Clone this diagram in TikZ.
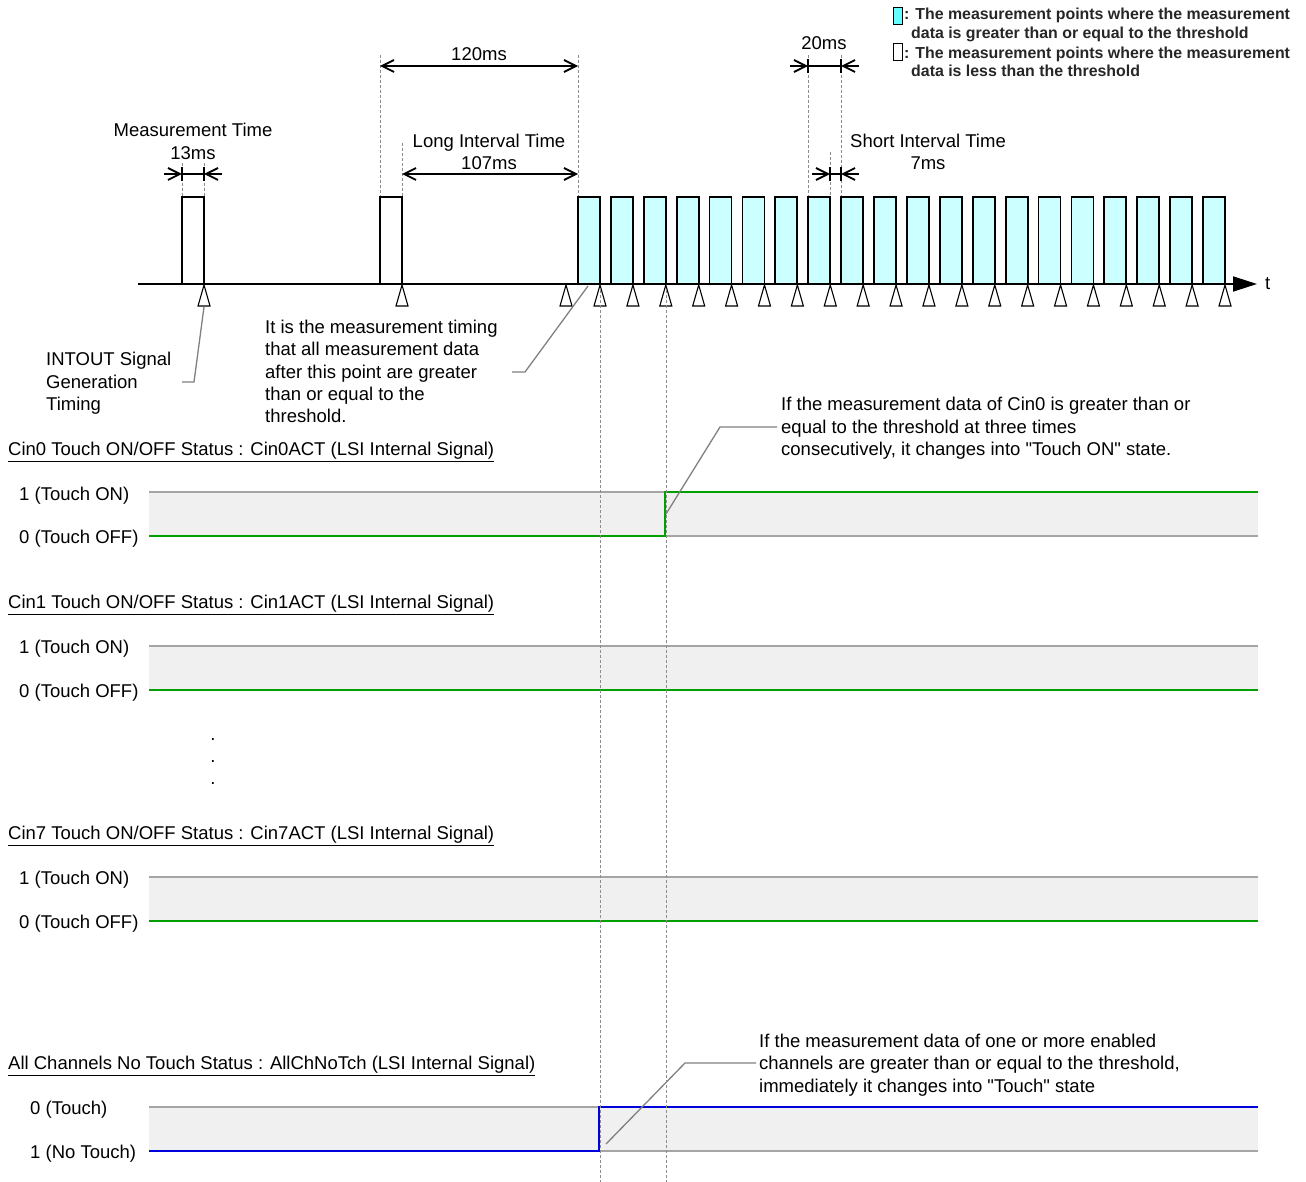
\documentclass[tikz,border=0pt]{standalone}
\usepackage{fontspec}
\setmainfont{Liberation Sans}[Ligatures=TeXOff]
\usetikzlibrary{arrows.meta}
\definecolor{cyanfill}{RGB}{204,255,255}
\definecolor{cyanleg}{RGB}{102,255,255}
\definecolor{siggreen}{RGB}{0,160,0}
\definecolor{sigblue}{RGB}{0,0,220}
\definecolor{bandline}{RGB}{165,165,165}
\definecolor{bandfill}{RGB}{240,240,240}
\definecolor{leadgray}{RGB}{128,128,128}
\begin{document}
\begin{tikzpicture}[x=1pt,y=-1pt,
  lbl/.style={font=\fontsize{18.5}{22.3}\selectfont, inner sep=0pt, align=left},
  clbl/.style={font=\fontsize{18.5}{22.3}\selectfont, inner sep=0pt, align=center},
  leg/.style={font=\bfseries\fontsize{15.9}{18.3}\selectfont, inner sep=0pt, align=left, text=black!85},
  pulsew/.style={draw=black, line width=1.8pt, fill=white},
  pulsec/.style={draw=black, line width=1.8pt, fill=cyanfill},
  tri/.style={draw=black, line width=1.1pt, fill=white, line join=miter},
  dashln/.style={draw=black!45, line width=1pt, dash pattern=on 3pt off 2pt},
  dimln/.style={draw=black, line width=1.8pt},
  barb/.style={draw=black, line width=1.8pt, -{Straight Barb[length=12pt,width=12pt]}},
  dbarb/.style={draw=black, line width=1.8pt, {Straight Barb[length=12pt,width=12pt]}-{Straight Barb[length=12pt,width=12pt]}},
  leader/.style={draw=leadgray, line width=1.3pt},
  bline/.style={draw=bandline, line width=1.8pt},
  grn/.style={draw=siggreen, line width=2.2pt},
  blu/.style={draw=sigblue, line width=2.2pt}
]
\useasboundingbox (0,0) rectangle (1306,1182);

% ---------------- legend ----------------
\draw[line width=1pt, fill=cyanleg] (893,8) rectangle (902,25);
\draw[line width=1pt, fill=white] (893,44) rectangle (902,61);
\node[leg, anchor=west] (leg1) at (904,25) {: The measurement points where the measurement\\\hspace*{7pt}data is greater than or equal to the threshold};
\node[leg, anchor=west] (leg2) at (904,62) {: The measurement points where the measurement\\\hspace*{7pt}data is less than the threshold};

% ---------------- dashed guide lines (top) ----------------
\draw[dashln] (182,163) -- (182,197);
\draw[dashln] (204,163) -- (204,197);
\draw[dashln] (380,55) -- (380,197);
\draw[dashln] (578,55) -- (578,197);
\draw[dashln] (402,143) -- (402,197);
\draw[dashln] (808,55) -- (808,197);
\draw[dashln] (841,55) -- (841,197);
\draw[dashln] (830,152) -- (830,197);

% ---------------- time axis ----------------
\coordinate (axL) at (138,284);
\coordinate (axR) at (1257,284);
\draw[line width=1.8pt, -{Triangle[length=24pt,width=15pt]}] (axL) -- (axR);
\node[lbl, anchor=west] (tlab) at (1265,284) {t};

% ---------------- pulses ----------------
\draw[pulsew] (182,284) rectangle (204,197);
\draw[pulsew] (380,284) rectangle (402,197);
\foreach \i in {0,...,19}{
  \pgfmathsetmacro\xx{578+\i*32.895}
  \draw[pulsec] (\xx,284) rectangle (\xx+22,197);
}

% ---------------- triangles ----------------
\foreach \xx in {204,402,566}{
  \draw[tri] (\xx,285) -- (\xx-6,306) -- (\xx+6,306) -- cycle;
}
\foreach \i in {0,...,19}{
  \pgfmathsetmacro\xx{600+\i*32.895}
  \draw[tri] (\xx,285) -- (\xx-6,306) -- (\xx+6,306) -- cycle;
}

% ---------------- dimensions ----------------
% 13ms
\draw[dimln] (182,174) -- (204,174);
\draw[barb] (164,174) -- (182,174);
\draw[barb] (222,174) -- (204,174);
\draw[dimln] (182,167) -- (182,181);
\draw[dimln] (204,167) -- (204,181);
\node[clbl] (mtime) at (193,141.5) {Measurement Time\\13ms};
% 120ms
\draw[dbarb] (380,66) -- (578,66);
\node[clbl] (d120) at (479,54) {120ms};
% 107ms
\draw[dbarb] (402,174) -- (578,174);
\node[clbl] (lit) at (489,152) {Long Interval Time\\107ms};
% 20ms
\draw[dimln] (808,66) -- (841,66);
\draw[barb] (790,66) -- (808,66);
\draw[barb] (859,66) -- (841,66);
\draw[dimln] (808,59) -- (808,73);
\draw[dimln] (841,59) -- (841,73);
\node[clbl] (d20) at (824,43) {20ms};
% 7ms
\draw[dimln] (830,174) -- (841,174);
\draw[barb] (812,174) -- (830,174);
\draw[barb] (859,174) -- (841,174);
\draw[dimln] (830,167) -- (830,181);
\draw[dimln] (841,167) -- (841,181);
\node[clbl] (sit) at (928,152) {Short Interval Time\\7ms};

% ---------------- annotations (top) ----------------
\node[lbl, anchor=west] (intout) at (46,383.5) {INTOUT Signal\\Generation\\Timing};
\coordinate (intoutTri) at (204,307);
\coordinate (intoutEnd) at (182,382);
\draw[leader] (intoutTri) -- (194,382) -- (intoutEnd);

\node[lbl, anchor=west] (mtiming) at (265,371.5) {It is the measurement timing\\that all measurement data\\after this point are greater\\than or equal to the\\threshold.};
\coordinate (mtPulse) at (588,286);
\coordinate (mtEnd) at (512,372);
\draw[leader] (mtPulse) -- (525,372) -- (mtEnd);

% ---------------- Cin0 ----------------
\node[lbl, anchor=base west] (t0) at (8,455.5) {\underline{Cin0 Touch ON/OFF Status : Cin0ACT (LSI Internal Signal)}};
\fill[bandfill] (149,492) rectangle (1258,536);
\draw[bline] (149,492) -- (1258,492);
\draw[bline] (149,536) -- (1258,536);
\draw[grn] (149,536) -- (665,536) -- (665,492) -- (1258,492);
\node[lbl, anchor=base west] (c0on) at (19,500.5) {1 (Touch ON)};
\node[lbl, anchor=base west] (c0off) at (19,543.5) {0 (Touch OFF)};
\node[lbl, anchor=west] (ann0) at (781,428.5) {If the measurement data of Cin0 is greater than or\\equal to the threshold at three times\\consecutively, it changes into "Touch ON" state.};
\coordinate (ann0Step) at (666,514);
\coordinate (ann0End) at (777,427);
\draw[leader] (ann0Step) -- (720,427) -- (ann0End);

% ---------------- Cin1 ----------------
\node[lbl, anchor=base west] (t1) at (8,608.5) {\underline{Cin1 Touch ON/OFF Status : Cin1ACT (LSI Internal Signal)}};
\fill[bandfill] (149,646) rectangle (1258,690);
\draw[bline] (149,646) -- (1258,646);
\draw[grn] (149,690) -- (1258,690);
\node[lbl, anchor=base west] (c1on) at (19,653.5) {1 (Touch ON)};
\node[lbl, anchor=base west] (c1off) at (19,697.5) {0 (Touch OFF)};

% dots
\node[lbl, anchor=base] (dot1) at (213,740) {.};
\node[lbl, anchor=base] (dot2) at (213,762) {.};
\node[lbl, anchor=base] (dot3) at (213,784) {.};

% ---------------- Cin7 ----------------
\node[lbl, anchor=base west] (t7) at (8,839.5) {\underline{Cin7 Touch ON/OFF Status : Cin7ACT (LSI Internal Signal)}};
\fill[bandfill] (149,877) rectangle (1258,921);
\draw[bline] (149,877) -- (1258,877);
\draw[grn] (149,921) -- (1258,921);
\node[lbl, anchor=base west] (c7on) at (19,884.5) {1 (Touch ON)};
\node[lbl, anchor=base west] (c7off) at (19,928.5) {0 (Touch OFF)};

% ---------------- All channels ----------------
\node[lbl, anchor=base west] (ta) at (8,1069.5) {\underline{All Channels No Touch Status : AllChNoTch (LSI Internal Signal)}};
\fill[bandfill] (149,1107) rectangle (1258,1151);
\draw[bline] (149,1107) -- (1258,1107);
\draw[bline] (149,1151) -- (1258,1151);
\draw[blu] (149,1151) -- (599,1151) -- (599,1107) -- (1258,1107);
\node[lbl, anchor=base west] (aon) at (30,1114.5) {0 (Touch)};
\node[lbl, anchor=base west] (aoff) at (30,1158.5) {1 (No Touch)};
\node[lbl, anchor=west] (annA) at (759,1065) {If the measurement data of one or more enabled\\channels are greater than or equal to the threshold,\\immediately it changes into "Touch" state};
\coordinate (annAStep) at (606,1144);
\coordinate (annAEnd) at (756,1063);
\draw[leader] (annAStep) -- (685,1063) -- (annAEnd);

% ---------------- long dashed guides ----------------
\draw[dashln] (600,290) -- (600,1182);
\draw[dashln] (666,290) -- (666,1182);

\end{tikzpicture}
\end{document}
